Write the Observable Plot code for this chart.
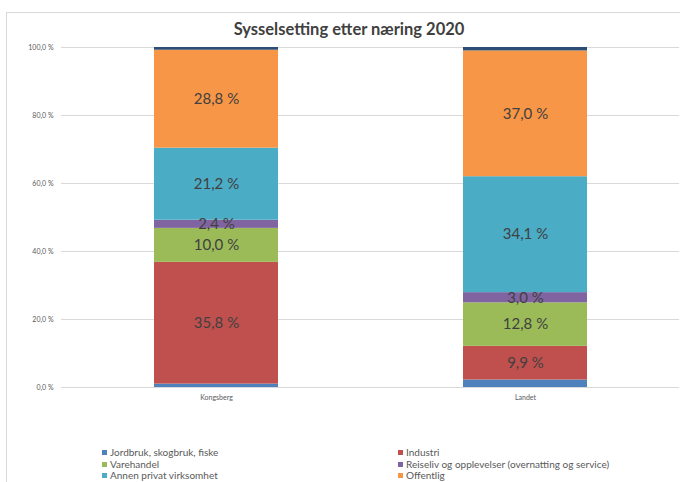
<!DOCTYPE html>
<html>
<head>
<meta charset="utf-8">
<script src="https://cdn.jsdelivr.net/npm/d3@7"></script>
<script src="https://cdn.jsdelivr.net/npm/@observablehq/plot@0.6"></script>
<style>
  html, body { margin: 0; padding: 0; background: #fff; }
  #wrap { position: relative; width: 680px; height: 482px; overflow: hidden; font-family: Lato, "Open Sans", sans-serif; }
  #frame { position: absolute; left: 6px; top: 12px; width: 690px; height: 480px; border: 1px solid #d9d9d9; box-sizing: border-box; }
  #title { position: absolute; left: 0; width: 698px; top: 19px; text-align: center; font-size: 16.5px; font-weight: bold; color: #404040; }
  #chart { position: absolute; left: 0; top: 40px; }
  #legend { position: absolute; left: 0; top: 446px; width: 680px; font-size: 10px; color: #595959; }
  .item { position: absolute; white-space: nowrap; line-height: 12px; }
  .sw { display: inline-block; width: 5px; height: 5px; margin-right: 3px; vertical-align: 1px; }
</style>
</head>
<body>
<div id="wrap">
  <div id="frame"></div>
  <div id="title">Sysselsetting etter næring 2020</div>
  <div id="chart"></div>
  <div id="legend"></div>
</div>
<script>
const places = ["Kongsberg", "Landet"];
const sectors = [
  "Jordbruk, skogbruk, fiske",
  "Industri",
  "Varehandel",
  "Reiseliv og opplevelser (overnatting og service)",
  "Annen privat virksomhet",
  "Offentlig",
  "Uoppgitt"
];
const kongsbergValues = [1.0, 35.8, 10.0, 2.4, 21.2, 28.8, 0.8];
const landetValues = [2.2, 9.9, 12.8, 3.0, 34.1, 37.0, 1.0];
const colors = ["#4f81bd", "#c0504d", "#9bbb59", "#8064a2", "#4bacc6", "#f79646", "#2c4d75"];
const legendSectors = sectors.slice(0, 6);
const yTicks = [0, 20, 40, 60, 80, 100];

const data = [];
[kongsbergValues, landetValues].forEach((vals, i) => {
  vals.forEach((v, j) => data.push({ place: places[i], sector: sectors[j], value: v }));
});
const fmt = v => v.toFixed(1).replace(".", ",") + " %";

const chart = Plot.plot({
  width: 680,
  height: 370,
  marginTop: 7,
  marginBottom: 23,
  marginLeft: 61,
  marginRight: 1,
  style: { fontFamily: "Lato, 'Open Sans', sans-serif", background: "transparent" },
  x: { domain: places, paddingInner: 0.6, paddingOuter: 0.3, label: null },
  y: { domain: [0, 100], label: null },
  color: { domain: sectors, range: colors },
  marks: [
    Plot.gridY(yTicks, { stroke: "#d9d9d9", strokeOpacity: 1 }),
    Plot.ruleY([0], { stroke: "#d9d9d9" }),
    Plot.axisY(yTicks, { tickSize: 0, tickPadding: 8, tickFormat: fmt, fontSize: 7, fill: "#595959", label: null }),
    Plot.axisX({ tickSize: 0, tickPadding: 8, fontSize: 7, fill: "#595959", label: null }),
    Plot.barY(data, Plot.stackY({ x: "place", y: "value", fill: "sector", z: "sector", order: sectors })),
    Plot.text(data, Plot.stackY({
      x: "place", y: "value", z: "sector", order: sectors,
      text: d => d.value >= 2 && d.sector !== "Uoppgitt" && d.sector !== sectors[0] ? fmt(d.value) : "",
      fontSize: 15, fill: "#404040"
    }))
  ]
});
document.getElementById("chart").appendChild(chart);

const legend = document.getElementById("legend");
legendSectors.forEach((s, i) => {
  const el = document.createElement("div");
  el.className = "item";
  el.style.left = (i % 2 === 0 ? 102 : 398) + "px";
  el.style.top = (Math.floor(i / 2) * 11.5) + "px";
  el.innerHTML = `<span class="sw" style="background:${colors[i]}"></span>${s}`;
  legend.appendChild(el);
});
</script>
</body>
</html>
